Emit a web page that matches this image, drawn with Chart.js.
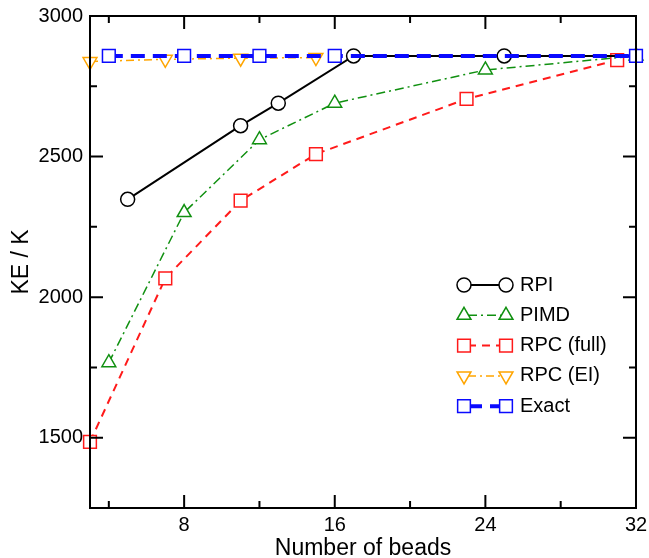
<!DOCTYPE html>
<html>
<head>
<meta charset="utf-8">
<script src="https://cdn.jsdelivr.net/npm/chart.js@4.4.0/dist/chart.umd.min.js"></script>
<style>
  html, body { margin: 0; padding: 0; background: #fff; }
</style>
</head>
<body>
<canvas id="keChart" width="649" height="558"></canvas>
<script>
// 刻度
const xTickVals = [8, 16, 24, 32];
const xMinorVals = [4, 12, 20, 28];
const yTickVals = [1500, 2000, 2500, 3000];
const yMinorVals = [1750, 2250, 2750];

// 數據 (Number of beads, KE / K)
const rpiBeads = [5, 11, 13, 17, 25, 33];
const rpiKE = [2348, 2610, 2690, 2858, 2858, 2858];
const pimdBeads = [4, 8, 12, 16, 24, 32];
const pimdKE = [1767, 2301, 2560, 2690, 2808, 2858];
const rpcFullBeads = [3, 7, 11, 15, 23, 31];
const rpcFullKE = [1485, 2067, 2343, 2509, 2705, 2843];
const rpcEIBeads = [3, 7, 11, 15];
const rpcEIKE = [2838, 2846, 2850, 2852];
const exactBeads = [4, 8, 12, 16, 32];
const exactKE = [2858, 2858, 2858, 2858, 2858];

const FONT = "'Liberation Sans', Arial, sans-serif";
const toXY = (xs, ys) => xs.map((v, i) => ({ x: v, y: ys[i] }));

const series = [
    { label: 'RPI', data: toXY(rpiBeads, rpiKE), color: '#000000', width: 2, dash: [],
      style: 'circle', radius: 7, rot: 0, order: 1, clip: 0 },
    { label: 'PIMD', data: toXY(pimdBeads, pimdKE), color: '#109010', width: 1.5, dash: [9, 4, 2, 4],
      style: 'triangle', radius: 8, rot: 0, order: 2, clip: false },
    { label: 'RPC (full)', data: toXY(rpcFullBeads, rpcFullKE), color: '#ff1a1a', width: 2, dash: [8, 6],
      style: 'rect', radius: 9, rot: 0, order: 3, clip: false },
    { label: 'RPC (EI)', data: toXY(rpcEIBeads, rpcEIKE), color: '#ffa500', width: 1.5, dash: [8, 4, 2, 4],
      style: 'triangle', radius: 8, rot: 180, order: 4, clip: false },
    { label: 'Exact', data: toXY(exactBeads, exactKE), color: '#0a0aff', width: 4, dash: [14, 8],
      style: 'rect', radius: 9, rot: 0, order: 0, clip: false }
];

// 框線與內側刻度
const frameTicks = {
    id: 'frameTicks',
    afterDatasetsDraw(chart) {
        const { ctx, chartArea: a, scales: { x, y } } = chart;
        ctx.save();
        ctx.strokeStyle = '#000';
        ctx.lineWidth = 2;
        ctx.setLineDash([]);
        ctx.beginPath();
        const tick = (vals, len) => {
            vals.forEach(v => {
                const px = x.getPixelForValue(v);
                ctx.moveTo(px, a.bottom); ctx.lineTo(px, a.bottom - len);
                ctx.moveTo(px, a.top); ctx.lineTo(px, a.top + len);
            });
        };
        const ytick = (vals, len) => {
            vals.forEach(v => {
                const py = y.getPixelForValue(v);
                ctx.moveTo(a.left, py); ctx.lineTo(a.left + len, py);
                ctx.moveTo(a.right, py); ctx.lineTo(a.right - len, py);
            });
        };
        tick(xTickVals, 13);
        tick(xMinorVals, 7);
        ytick(yTickVals, 13);
        ytick(yMinorVals, 7);
        ctx.stroke();
        ctx.strokeRect(a.left, a.top, a.right - a.left, a.bottom - a.top);
        ctx.restore();
    }
};

function drawMarker(ctx, s, cx, cy) {
    ctx.save();
    ctx.setLineDash([]);
    ctx.lineWidth = 1.5;
    ctx.strokeStyle = s.color;
    ctx.fillStyle = '#fff';
    ctx.beginPath();
    const r = s.radius;
    if (s.style === 'circle') {
        ctx.arc(cx, cy, r, 0, Math.PI * 2);
    } else if (s.style === 'rect') {
        const h = r * Math.SQRT1_2;
        ctx.rect(cx - h, cy - h, 2 * h, 2 * h);
    } else {
        let rad = s.rot * Math.PI / 180;
        ctx.moveTo(cx + Math.sin(rad) * r, cy - Math.cos(rad) * r);
        rad += 2 * Math.PI / 3;
        ctx.lineTo(cx + Math.sin(rad) * r, cy - Math.cos(rad) * r);
        rad += 2 * Math.PI / 3;
        ctx.lineTo(cx + Math.sin(rad) * r, cy - Math.cos(rad) * r);
        ctx.closePath();
    }
    ctx.fill();
    ctx.stroke();
    ctx.restore();
}

// 圖例 (圖內右下)
const insideLegend = {
    id: 'insideLegend',
    afterDraw(chart) {
        const { ctx } = chart;
        const x0 = 464, x1 = 506, tx = 520, y0 = 285, dy = 30.3;
        series.forEach((s, i) => {
            const yy = y0 + i * dy;
            ctx.save();
            ctx.strokeStyle = s.color;
            ctx.lineWidth = s.width;
            ctx.setLineDash(s.dash);
            ctx.lineDashOffset = s.dash.length ? -4 : 0;
            ctx.beginPath();
            ctx.moveTo(x0, yy);
            ctx.lineTo(x1, yy);
            ctx.stroke();
            ctx.restore();
            drawMarker(ctx, s, x0, yy);
            drawMarker(ctx, s, x1, yy);
            ctx.save();
            ctx.fillStyle = '#000';
            ctx.font = '20px ' + FONT;
            ctx.textBaseline = 'middle';
            ctx.fillText(s.label, tx, yy);
            ctx.restore();
        });
    }
};

const ctx = document.getElementById('keChart').getContext('2d');
const keChart = new Chart(ctx, {
    type: 'line',
    data: {
        datasets: series.map(s => ({
            label: s.label,
            data: s.data,
            borderColor: s.color,
            borderWidth: s.width,
            borderDash: s.dash,
            pointStyle: s.style,
            pointRadius: s.radius,
            pointRotation: s.rot,
            pointBorderColor: s.color,
            pointBackgroundColor: '#fff',
            pointBorderWidth: 1.5,
            fill: false,
            tension: 0,
            order: s.order,
            clip: s.clip
        }))
    },
    options: {
        responsive: false,
        animation: false,
        devicePixelRatio: 1,
        layout: { padding: { left: 0, right: 13, top: 16, bottom: 0 } },
        plugins: { legend: { display: false }, tooltip: { enabled: false } },
        scales: {
            x: {
                type: 'linear', min: 3, max: 32,
                afterBuildTicks: sc => { sc.ticks = xTickVals.map(v => ({ value: v })); },
                afterFit: sc => { sc.height = 50; sc.paddingLeft = 0; sc.paddingRight = 0; },
                grid: { display: false, drawTicks: false },
                border: { display: false },
                ticks: { color: '#000', font: { family: FONT, size: 20 }, padding: 5, maxRotation: 0,
                         callback: v => String(v) },
                title: { display: true, text: 'Number of beads', color: '#000',
                         font: { family: FONT, size: 23 }, padding: { top: 0, bottom: -4 } }
            },
            y: {
                type: 'linear', min: 1250, max: 3000,
                afterBuildTicks: sc => { sc.ticks = yTickVals.map(v => ({ value: v })); },
                afterFit: sc => { sc.width = 90; sc.paddingTop = 0; sc.paddingBottom = 0; },
                grid: { display: false, drawTicks: false },
                border: { display: false },
                ticks: { color: '#000', font: { family: FONT, size: 20 }, padding: 7,
                         callback: v => String(v) },
                title: { display: true, text: 'KE / K', color: '#000',
                         font: { family: FONT, size: 23 }, padding: { top: 8, bottom: 0 } }
            }
        }
    },
    plugins: [frameTicks, insideLegend]
});
</script>
</body>
</html>
